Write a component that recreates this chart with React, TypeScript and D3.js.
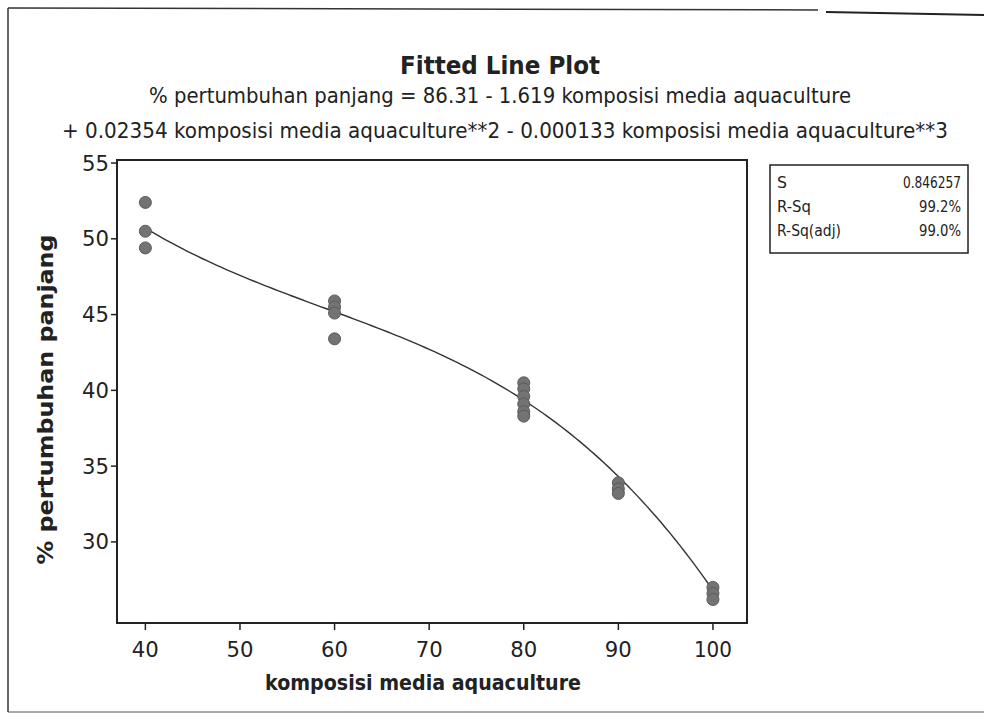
import React from "react";
import * as d3 from "d3";

const composition = [40, 40, 40, 60, 60, 60, 60, 80, 80, 80, 80, 80, 80, 90, 90, 90, 100, 100, 100];
const growth = [52.4, 50.5, 49.4, 45.9, 45.5, 45.1, 43.4, 40.5, 40.1, 39.6, 39.1, 38.6, 38.3, 33.9, 33.5, 33.2, 27.0, 26.6, 26.2];

// cubic fit coefficients from the header: b0 + b1 x + b2 x^2 + b3 x^3
const coefs = [86.31, -1.619, 0.02354, -0.000133];

const xTicks = [40, 50, 60, 70, 80, 90, 100];
const yTicks = [30, 35, 40, 45, 50, 55];

const statLabels = ["S", "R-Sq", "R-Sq(adj)"];
const statValues = ["0.846257", "99.2%", "99.0%"];

const FONT = "'DejaVu Sans', Verdana, sans-serif";

export default function App() {
  const W = 984;
  const H = 724;
  const left = 117, right = 747, top = 160, bottom = 623;

  const x = d3.scaleLinear().domain([37, 103.6]).range([left, right]);
  const y = d3.scaleLinear().domain([24.65, 55.2]).range([bottom, top]);

  const fit = (v: number) => coefs.reduce((s, c, i) => s + c * Math.pow(v, i), 0);
  const curveX = d3.range(40, 100.01, 0.5);
  const line = d3
    .line<number>()
    .x((d) => x(d))
    .y((d) => y(fit(d)));

  return (
    <svg
      width={W}
      height={H}
      style={{ position: "absolute", left: 0, top: 0, background: "#fff" }}
      fontFamily={FONT}
    >
      {/* page frame */}
      <line x1={8} y1={8} x2={818} y2={10} stroke="#333" strokeWidth={1.5} />
      <line x1={826} y1={12} x2={984} y2={15} stroke="#222" strokeWidth={2} />
      <line x1={8} y1={8} x2={8} y2={712} stroke="#333" strokeWidth={1.5} />
      <line x1={8} y1={712} x2={984} y2={712} stroke="#555" strokeWidth={1} />

      {/* titles */}
      <text x={500} y={74} textAnchor="middle" fontWeight="bold" fontSize={25}
        textLength={200} lengthAdjust="spacingAndGlyphs" fill="#222">
        Fitted Line Plot
      </text>
      <text x={500} y={103} textAnchor="middle" fontSize={22}
        textLength={702} lengthAdjust="spacingAndGlyphs" fill="#222">
        % pertumbuhan panjang =  86.31 - 1.619 komposisi media aquaculture
      </text>
      <text x={505} y={138} textAnchor="middle" fontSize={22}
        textLength={886} lengthAdjust="spacingAndGlyphs" fill="#222">
        + 0.02354 komposisi media aquaculture**2 - 0.000133 komposisi media aquaculture**3
      </text>

      {/* plot frame */}
      <rect x={left} y={top} width={right - left} height={bottom - top}
        fill="none" stroke="#222" strokeWidth={2} />

      {/* y axis */}
      {yTicks.map((t) => (
        <g key={"y" + t}>
          <line x1={left - 6} x2={left} y1={y(t)} y2={y(t)} stroke="#222" strokeWidth={1.5} />
          <text x={left - 8} y={y(t)} dy="0.36em" textAnchor="end" fontSize={21}
            textLength={27} lengthAdjust="spacingAndGlyphs" fill="#222">
            {t}
          </text>
        </g>
      ))}
      <text transform={`translate(53,${(top + bottom) / 2 + 8}) rotate(-90)`}
        textAnchor="middle" fontWeight="bold" fontSize={21}
        textLength={330} lengthAdjust="spacingAndGlyphs" fill="#222">
        % pertumbuhan panjang
      </text>

      {/* x axis */}
      {xTicks.map((t) => (
        <g key={"x" + t}>
          <line x1={x(t)} x2={x(t)} y1={bottom} y2={bottom + 7} stroke="#222" strokeWidth={1.5} />
          <text x={x(t)} y={bottom + 34} textAnchor="middle" fontSize={21}
            textLength={t === 100 ? 38 : 27} lengthAdjust="spacingAndGlyphs" fill="#222">
            {t}
          </text>
        </g>
      ))}
      <text x={423} y={690} textAnchor="middle" fontWeight="bold" fontSize={21}
        textLength={316} lengthAdjust="spacingAndGlyphs" fill="#222">
        komposisi media aquaculture
      </text>

      {/* fitted curve */}
      <path d={line(curveX) ?? ""} fill="none" stroke="#333" strokeWidth={1.4} />

      {/* observations */}
      {composition.map((c, i) => (
        <circle key={i} cx={x(c)} cy={y(growth[i])} r={6}
          fill="#737373" stroke="#5a5a5a" strokeWidth={1} />
      ))}

      {/* stats box */}
      <rect x={770} y={165} width={198} height={88} fill="#fff" stroke="#222" strokeWidth={1.5} />
      {statLabels.map((s, i) => (
        <g key={s}>
          <text x={777} y={188 + i * 24} fontSize={15} fill="#222"
            textLength={[10, 34, 64][i]} lengthAdjust="spacingAndGlyphs">{s}</text>
          <text x={961} y={188 + i * 24} fontSize={15} textAnchor="end" fill="#222"
            textLength={[58, 42, 42][i]} lengthAdjust="spacingAndGlyphs">
            {statValues[i]}
          </text>
        </g>
      ))}
    </svg>
  );
}
